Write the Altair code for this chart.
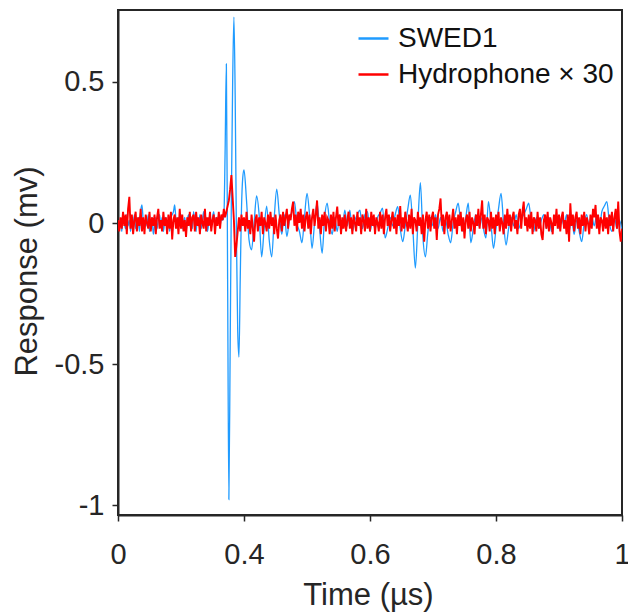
import altair as alt
import numpy as np
import pandas as pd

series_names = ["SWED1", "Hydrophone × 30"]
series_colors = ["#1f9bff", "#ff0000"]
x_ticks = [0, 0.4, 0.6, 0.8, 1]
y_ticks = [-1, -0.5, 0, 0.5]

# SWED1, t = 0 ... 0.396 us, step 0.004
swed_early = [
    0.0, -0.02, 0.01, -0.03, 0.02, 0.0, -0.02, 0.03, -0.01, 0.01,
    -0.03, 0.02, -0.01, 0.03, -0.02, 0.0, 0.02, -0.03, 0.04, 0.064,
    0.01, -0.02, 0.02, -0.01, 0.03, -0.03, -0.01, 0.02, -0.04, -0.01,
    0.02, -0.02, 0.01, 0.03, -0.01, 0.02, -0.03, 0.0, 0.02, -0.02,
    0.01, -0.03, 0.02, 0.03, 0.04, 0.064, 0.01, -0.02, 0.02, -0.01,
    0.03, -0.02, 0.0, 0.02, -0.03, 0.01, 0.03, -0.01, 0.02, -0.02,
    0.04, 0.0, -0.03, 0.02, -0.01, 0.03, -0.02, 0.01, 0.04, -0.01,
    0.02, -0.03, 0.0, 0.03, -0.02, 0.02, 0.04, -0.01, 0.02, 0.0,
    0.03, -0.01, 0.02, 0.01, 0.02, 0.25, 0.564, -0.2, -0.98, -0.45,
    0.1, 0.5, 0.73, 0.45, -0.05, -0.38, -0.475, -0.2, 0.05, 0.16,
]
# SWED1, t = 0.4 ... 1.0 us, step 0.004
swed_late = [
    0.188, 0.08, -0.06, -0.095, 0.0, 0.096, 0.03, -0.12, -0.02, 0.06,
    -0.06, -0.12, 0.02, 0.12, 0.03, -0.04, 0.03, -0.048, 0.01, 0.04,
    0.076, 0.0, -0.03, -0.07, 0.02, 0.105, 0.03, -0.09, 0.0, 0.07,
    -0.02, -0.107, 0.02, 0.07, 0.0, -0.04, 0.02, -0.03, 0.03, -0.02,
    0.046, -0.01, 0.046, -0.03, 0.01, 0.03, 0.046, -0.02, 0.03, 0.04,
    -0.03, 0.01, -0.02, 0.02, 0.035, 0.053, -0.053, -0.02, 0.02, -0.01,
    0.03, 0.058, -0.02, -0.066, -0.01, 0.05, 0.099, -0.02, -0.16, 0.0,
    0.143, -0.05, -0.12, -0.03, 0.02, -0.01, 0.03, -0.02, 0.02, -0.03,
    0.01, -0.04, -0.07, 0.0, 0.04, 0.07, 0.0, -0.03, 0.02, 0.07,
    -0.07, -0.02, 0.03, -0.01, 0.02, -0.02, -0.053, 0.076, 0.0, -0.09,
    -0.02, 0.05, 0.105, 0.0, -0.078, -0.02, 0.02, -0.01, 0.03, -0.02,
    0.01, 0.03, 0.05, 0.07, 0.0, -0.03, 0.02, -0.02, 0.01, 0.03,
    -0.02, 0.02, -0.03, 0.01, 0.03, -0.02, 0.02, -0.01, 0.03, -0.03,
    0.02, -0.04, 0.01, -0.03, -0.066, 0.0, 0.03, -0.02, 0.02, -0.01,
    0.03, -0.02, 0.04, 0.06, 0.076, 0.0, -0.03, 0.02, -0.02, 0.01,
    -0.03,
]
# Hydrophone x 30, t = 0 ... 0.396 us, step 0.004
hydro_early = [
    0.01, -0.03, 0.02, -0.02, 0.04, -0.01, 0.03, -0.04, 0.05, 0.093,
    -0.02, 0.03, -0.04, 0.01, 0.04, -0.03, 0.02, -0.01, 0.05, -0.03,
    0.02, -0.04, 0.03, 0.0, -0.02, 0.04, -0.03, 0.02, -0.01, 0.03,
    -0.04, 0.02, 0.05, -0.02, 0.01, -0.03, 0.04, -0.01, 0.02, -0.04,
    0.03, -0.02, 0.04, -0.058, 0.01, 0.03, -0.02, 0.02, -0.04, 0.05,
    -0.02, 0.03, -0.03, 0.01, -0.049, 0.02, -0.01, 0.04, -0.03, 0.02,
    0.03, -0.03, 0.04, -0.01, 0.02, -0.04, 0.03, 0.0, -0.02, 0.05,
    -0.03, 0.02, -0.01, 0.04, -0.03, 0.01, 0.03, -0.04, 0.02, -0.01,
    0.04, -0.02, 0.03, 0.01, 0.05, 0.02, 0.04, 0.06, 0.08, 0.12,
    0.17, 0.09, 0.01, -0.12, -0.08, -0.03, 0.02, -0.03, 0.03, -0.01,
]
# Hydrophone x 30, t = 0.4 ... 1.0 us, step 0.002
hydro_late = [
    0.02, -0.03, 0.04, -0.02, 0.01, -0.04, 0.03, -0.02, -0.066, 0.01,
    0.03, -0.03, 0.02, -0.01, 0.04, -0.04, 0.02, 0.0, -0.03, 0.03,
    -0.02, 0.04, -0.01, 0.02, -0.04, 0.03, -0.02, -0.055, 0.01, 0.03,
    -0.03, 0.04, -0.01, 0.02, 0.05, -0.02, 0.03, 0.01, 0.05, 0.076,
    -0.01, 0.03, -0.03, 0.04, 0.0, 0.05, -0.02, 0.03, -0.03, 0.02,
    0.04, -0.02, 0.03, -0.04, 0.02, 0.05, -0.01, 0.03, 0.08, -0.02,
    0.02, -0.04, 0.03, -0.01, 0.04, -0.03, 0.02, 0.01, -0.04, 0.03,
    -0.02, 0.04, -0.03, 0.02, 0.058, -0.01, 0.03, -0.04, 0.02, -0.02,
    0.03, -0.03, 0.01, 0.04, -0.02, 0.02, -0.04, 0.03, 0.0, -0.03,
    0.04, -0.01, 0.02, -0.04, 0.03, 0.01, -0.03, 0.05, -0.02, 0.02,
    -0.03, 0.04, -0.01, 0.03, -0.04, 0.02, 0.0, -0.03, 0.04, -0.02,
    0.03, -0.04, 0.02, 0.05, -0.01, 0.03, -0.03, 0.01, 0.04, -0.02,
    0.02, -0.04, 0.03, -0.01, 0.06, -0.03, 0.02, -0.02, 0.04, 0.0,
    -0.03, 0.03, -0.02, 0.05, -0.04, 0.02, 0.01, -0.03, 0.04, -0.01,
    0.02, -0.04, 0.03, -0.066, 0.01, 0.04, -0.02, 0.03, -0.03, 0.02,
    0.04, -0.02, 0.02, -0.06, 0.03, 0.05, 0.087, -0.01, 0.03, -0.04,
    0.02, 0.04, -0.02, 0.03, -0.03, 0.01, 0.05, -0.02, 0.02, -0.04,
    0.03, -0.01, 0.04, -0.03, 0.02, -0.055, 0.01, 0.03, -0.02, 0.04,
    -0.03, 0.02, 0.0, -0.04, 0.03, -0.01, 0.05, -0.02, 0.03, 0.08,
    -0.02, 0.03, -0.04, 0.02, 0.01, -0.03, 0.04, -0.02, 0.02, -0.04,
    0.03, -0.01, 0.04, -0.03, 0.02, 0.0, -0.04, 0.03, -0.02, 0.05,
    -0.01, 0.03, -0.03, 0.02, 0.04, -0.02, 0.01, -0.04, 0.03, 0.05,
    -0.02, 0.04, 0.076, -0.01, 0.02, -0.03, 0.03, -0.02, 0.04, -0.04,
    0.02, 0.01, -0.03, 0.04, -0.02, 0.02, -0.04, -0.06, 0.01, 0.03,
    -0.02, 0.04, -0.03, 0.02, 0.0, -0.04, 0.03, -0.01, 0.05, -0.02,
    0.03, -0.03, 0.02, 0.04, -0.02, 0.01, -0.04, 0.03, -0.066, 0.07,
    -0.01, 0.03, -0.03, 0.02, 0.04, -0.02, 0.02, -0.04, 0.03, -0.01,
    0.04, -0.03, 0.02, 0.0, -0.04, 0.03, -0.02, 0.05, 0.02, 0.064,
    -0.02, 0.03, -0.04, 0.02, 0.01, -0.03, 0.04, -0.02, 0.02, -0.04,
    0.03, -0.01, 0.04, -0.03, 0.02, 0.05, -0.02, 0.076, -0.03, -0.066,
    -0.02,
]


def frame(values_early, values_late, step_late, name):
    t_early = np.round(np.arange(len(values_early)) * 0.004, 4)
    t_late = np.round(0.4 + np.arange(len(values_late)) * step_late, 4)
    return pd.DataFrame({
        "t": np.concatenate([t_early, t_late]),
        "v": list(values_early) + list(values_late),
        "series": name,
    })


df_swed = frame(swed_early, swed_late, 0.004, series_names[0])
df_hydro = frame(hydro_early, hydro_late, 0.002, series_names[1])

W, H = 504, 505
FONT = "Liberation Sans"
INK = "#262626"

x_enc = alt.X(
    "t:Q",
    scale=alt.Scale(domain=[0, 0.4, 1], range=[0, W / 4, W]),
    axis=alt.Axis(
        values=x_ticks, labelExpr="toString(datum.value)", title="Time (µs)",
        labelFlush=False, labelPadding=19, titleX=250, titleY=89,
        titleBaseline="alphabetic", titleAlign="center",
    ),
)
y_enc = alt.Y(
    "v:Q",
    scale=alt.Scale(domain=[-1.035, 0.755], nice=False, zero=False),
    axis=alt.Axis(
        values=y_ticks, labelExpr="toString(datum.value)", title="Response (mv)",
        labelPadding=8, titleX=-82, titleY=261, titleAngle=-90,
        titleBaseline="alphabetic", titleAlign="center",
    ),
)
color_enc = alt.Color(
    "series:N",
    scale=alt.Scale(domain=series_names, range=series_colors),
    legend=alt.Legend(
        title=None, orient="none", legendX=239, legendY=12, padding=0,
        symbolType="stroke", symbolSize=900, symbolStrokeWidth=2.5,
        labelFontSize=28, labelFont=FONT, labelColor="#111111",
        labelOffset=8, rowPadding=5, labelLimit=400,
    ),
)

blue = alt.Chart(df_swed).mark_line(
    strokeWidth=1.3, clip=True, interpolate="monotone"
).encode(x=x_enc, y=y_enc, color=color_enc)
red = alt.Chart(df_hydro).mark_line(strokeWidth=1.9, clip=True).encode(
    x=x_enc, y=y_enc, color=color_enc
)

chart = (
    alt.layer(blue, red)
    .properties(
        width=W, height=H,
        autosize=alt.AutoSizeParams(type="none"),
        padding={"left": 118, "top": 10, "right": 6, "bottom": 100},
        background="white",
    )
    .configure_view(stroke=INK, strokeWidth=2)
    .configure_axis(
        labelFont=FONT, labelFontSize=29, labelColor=INK,
        titleFont=FONT, titleFontSize=31, titleFontWeight="normal", titleColor=INK,
        tickColor=INK, tickSize=6, tickWidth=1.5,
        domainColor=INK, domainWidth=2, grid=False,
    )
)

chart.save("out.html", embed_options={"renderer": "svg", "actions": False})
